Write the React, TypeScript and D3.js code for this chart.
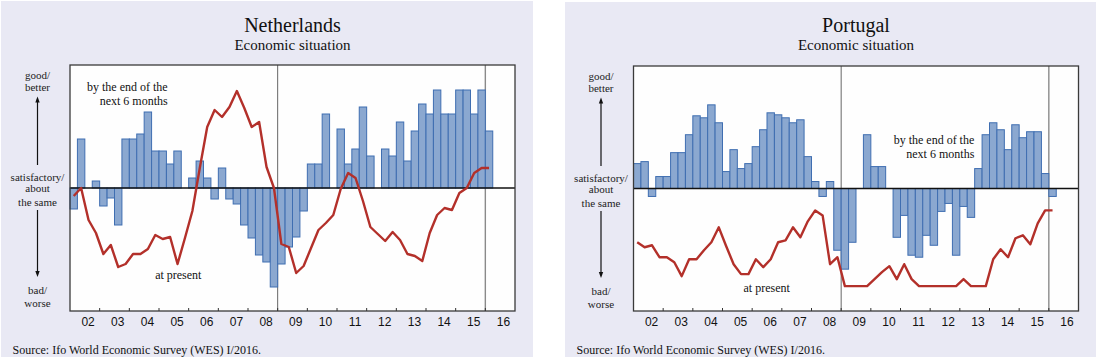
import React from 'react';
import * as d3 from 'd3';

// year labels on the x axis
const years = d3.range(2002, 2017);
const quarterNames = ['Q1', 'Q2', 'Q3', 'Q4'];
const quarters = years.flatMap(y => quarterNames.map(q => `${y}${q}`));

// Netherlands, 2002Q1 - 2016Q1 (index units, satisfactory = 0)
const nlExpect = [
  -21, 49, 0, 7, -18, -10, -37, 49, 49, 54, 76, 37, 37, 24, 37, 0,
  10, 27, 10, -11, 20, -11, -16, -37, -50, -67, -74, -99,
  -76, -59, -49, -23, 24, 24, 74, 0, 59, 24, 39, 81, 32, 0,
  39, 32, 66, 27, 57, 84, 74, 98, 74, 74, 98, 98, 74, 98, 57,
];
const nlPresent = [
  -8, 0, -32, -45, -66, -57, -79, -76, -66, -66, -61, -47, -51, -49, -76, -50,
  -23, 20, 61, 78, 71, 81, 97, 80, 61, 66, 21, 0,
  -56, -59, -85, -78, -60, -42, -35, -27, -1, 15, 10, -13, -39, -46,
  -53, -44, -52, -66, -68, -73, -45, -27, -20, -22, -5, 0, 15, 20, 20,
];

// Portugal, 2002Q1 - 2016Q1
const ptExpect = [
  25, 27, -8, 12, 12, 36, 36, 54, 73, 71, 84, 66, 17, 39, 20, 25,
  42, 59, 76, 74, 71, 66, 69, 32, 7, -8, 7, -62,
  -81, -54, 0, 54, 22, 22, 0, -49, -27, -67, -69, -47, -57, -23,
  -15, -67, -18, -29, 20, 54, 66, 59, 39, 64, 51, 57, 57, 15, -8,
];
const ptPresent = [
  -54, -59, -57, -69, -69, -74, -88, -71, -71, -62, -54, -39, -58, -76, -86, -86,
  -71, -79, -71, -54, -52, -39, -49, -33, -22, -27, -76, -69,
  -98, -98, -98, -98, -91, -84, -78, -91, -76, -91, -98, -98, -98, -98,
  -98, -98, -91, -98, -98, -98, -71, -61, -69, -50, -47, -56, -35, -22, -22,
];

const serif = '"Liberation Serif", "Times New Roman", serif';
const sans = '"Liberation Sans", Arial, sans-serif';
const barFill = '#8ba8d0';
const barStroke = '#3f6eb1';
const lineColor = '#b3302a';

type PanelProps = {
  title: string;
  expect: number[];
  present: number[];
  bg: { x: number; y: number; w: number; h: number };
  plot: { l: number; r: number; t: number; b: number };
  upper: { x: number; y: number };
  lower: { x: number; y: number };
};

const Arrow = ({ x, y1, y2 }: { x: number; y1: number; y2: number }) => {
  const dir = y2 > y1 ? 1 : -1;
  return (
    <g>
      <line x1={x} x2={x} y1={y1} y2={y2 - dir * 3} stroke="#111" strokeWidth={1.2} />
      <path d={`M${x},${y2} L${x - 2.2},${y2 - dir * 6} L${x + 2.2},${y2 - dir * 6} Z`} fill="#111" />
    </g>
  );
};

const Panel = ({ title, expect, present, bg, plot, upper, lower }: PanelProps) => {
  const x = d3.scaleBand().domain(quarters).range([plot.l, plot.r]).padding(0);
  const y = d3.scaleLinear().domain([-123, 123]).range([plot.b, plot.t]);
  const bw = x.bandwidth();
  const yearW = bw * 4;

  const line = d3.line<number>()
    .x((d, i) => (x(quarters[i]) as number) + bw / 2)
    .y(d => y(d));

  const cx = (plot.l + plot.r) / 2;
  const lx = plot.l - 32.5;
  const t = plot.t;

  return (
    <g>
      <rect x={bg.x} y={bg.y} width={bg.w} height={bg.h} fill="#e9e9f4" />
      <text x={cx} y={32} textAnchor="middle" fontFamily={serif} fontSize={20} fill="#111">{title}</text>
      <text x={cx} y={50} textAnchor="middle" fontFamily={serif} fontSize={15} fill="#111">Economic situation</text>

      <rect x={plot.l} y={plot.t} width={plot.r - plot.l} height={plot.b - plot.t} fill="#fefefe" />

      {/* side labels */}
      <g fontFamily={serif} fontSize={11} fill="#222" textAnchor="middle">
        <text x={lx} y={t + 14}>good/</text>
        <text x={lx} y={t + 25.7}>better</text>
        <text x={lx} y={t + 115.7}>satisfactory/</text>
        <text x={lx} y={t + 127.3}>about</text>
        <text x={lx} y={t + 140.7}>the same</text>
        <text x={lx} y={t + 229}>bad/</text>
        <text x={lx} y={t + 241.7}>worse</text>
      </g>
      <Arrow x={lx} y1={t + 100} y2={t + 31.5} />
      <Arrow x={lx} y1={t + 145} y2={t + 212} />

      {/* vertical separators */}
      <line x1={x('2009Q1')} x2={x('2009Q1')} y1={plot.t} y2={plot.b} stroke="#666" strokeWidth={1} />
      <line x1={x('2016Q1')} x2={x('2016Q1')} y1={plot.t} y2={plot.b} stroke="#8a8a8a" strokeWidth={1.4} />

      {/* bars: by the end of the next 6 months */}
      {expect.map((v, i) => (
        v === 0 ? null : (
          <rect
            key={i}
            x={x(quarters[i])}
            y={y(Math.max(0, v))}
            width={bw}
            height={Math.abs(y(v) - y(0))}
            fill={barFill}
            stroke={barStroke}
            strokeWidth={1}
          />
        )
      ))}

      <line x1={plot.l} x2={plot.r} y1={y(0)} y2={y(0)} stroke="#111" strokeWidth={1.3} />

      {/* line: at present */}
      <path d={line(present) || ''} fill="none" stroke={lineColor} strokeWidth={2.4} strokeLinejoin="round" />

      <rect x={plot.l} y={plot.t} width={plot.r - plot.l} height={plot.b - plot.t} fill="none" stroke="#3a3a3a" strokeWidth={1.3} />

      {/* year ticks and labels */}
      {years.map(yr => {
        const x0 = x(`${yr}Q1`) as number;
        return (
          <g key={yr}>
            {yr > 2002 && <line x1={x0} x2={x0} y1={plot.b} y2={plot.b - 3} stroke="#333" strokeWidth={1} />}
            <text x={x0 + yearW * 0.61} y={plot.b + 15} textAnchor="middle" fontFamily={sans} fontSize={12} fill="#111">
              {d3.format('02d')(yr % 100)}
            </text>
          </g>
        );
      })}

      <g fontFamily={serif} fontSize={12} fill="#111">
        <text x={upper.x} y={upper.y} textAnchor="end">by the end of the</text>
        <text x={upper.x} y={upper.y + 14} textAnchor="end">next 6 months</text>
        <text x={lower.x} y={lower.y} textAnchor="middle">at present</text>
      </g>

      <text x={bg.x + 11.5} y={354} fontFamily={serif} fontSize={12} fill="#111">
        Source: Ifo World Economic Survey (WES) I/2016.
      </text>
    </g>
  );
};

export default function App() {
  return (
    <svg width={1096} height={360} style={{ position: 'absolute', left: 0, top: 0, background: '#fff' }}>
      <Panel
        title="Netherlands"
        expect={nlExpect}
        present={nlPresent}
        bg={{ x: 1, y: 1, w: 532, h: 356 }}
        plot={{ l: 70, r: 515, t: 65, b: 311 }}
        upper={{ x: 167.7, y: 90.5 }}
        lower={{ x: 178.3, y: 279 }}
      />
      <Panel
        title="Portugal"
        expect={ptExpect}
        present={ptPresent}
        bg={{ x: 565, y: 2, w: 531, h: 355 }}
        plot={{ l: 633.5, r: 1078.5, t: 66, b: 311 }}
        upper={{ x: 974.3, y: 144 }}
        lower={{ x: 766.7, y: 291.5 }}
      />
    </svg>
  );
}
